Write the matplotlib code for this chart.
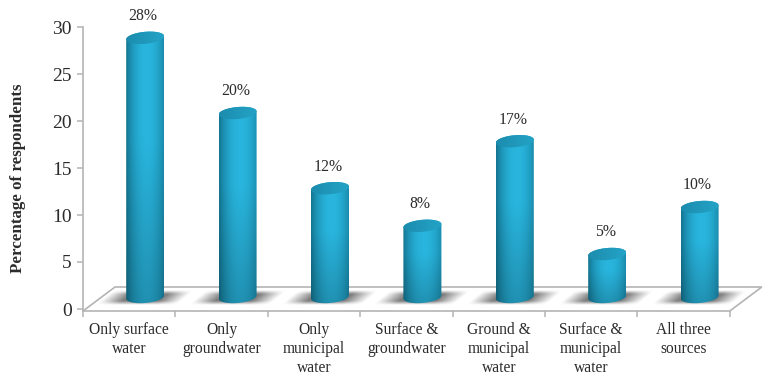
import numpy as np
import matplotlib
matplotlib.use("Agg")
import matplotlib.pyplot as plt
from matplotlib.path import Path
from matplotlib.patches import PathPatch

categories = ["Only surface\nwater", "Only\ngroundwater", "Only\nmunicipal\nwater",
              "Surface &\ngroundwater", "Ground &\nmunicipal\nwater",
              "Surface &\nmunicipal\nwater", "All three\nsources"]
values = [28, 20, 12, 8, 17, 5, 10]
value_labels = ["28%", "20%", "12%", "8%", "17%", "5%", "10%"]
yticks = [0, 5, 10, 15, 20, 25, 30]

W, H = 767, 375
PX_X = 92.4          # pixels per category
PX_Y = 9.4           # pixels per percentage point
LEFT, BOTTOM, TOP = 83, 311, 27

plt.rcParams["font.family"] = ["Liberation Serif", "DejaVu Serif"]
fig = plt.figure(figsize=(W / 100, H / 100), dpi=100)
ax = fig.add_axes([LEFT / W, 1 - BOTTOM / H, 7 * PX_X / W, (BOTTOM - TOP) / H])
ymin = -(BOTTOM - 309) / PX_Y
ax.set_xlim(0, 7)
ax.set_ylim(ymin, 30)

GRID = "#b4b4b4"
TEXT = "#2b2b2b"
for name in ("top", "right"):
    ax.spines[name].set_visible(False)
for name in ("left", "bottom"):
    ax.spines[name].set_color(GRID)
    ax.spines[name].set_linewidth(1.2)

ax.set_yticks(yticks)
ax.tick_params(axis="y", length=4, color=GRID, width=1.1, labelsize=14, labelcolor=TEXT, pad=4)
ax.set_xticks(np.arange(8))
ax.set_xticklabels([])
ax.tick_params(axis="x", which="major", length=4, color=GRID, width=1.1)
ax.set_xticks(np.arange(7) + 0.5, minor=True)
ax.set_xticklabels(categories, minor=True, fontsize=11.2, color=TEXT, linespacing=1.25)
ax.tick_params(axis="x", which="minor", length=0, pad=8)

fig.text(18 / W, 1 - 178 / H, "Percentage of respondents", rotation=90, ha="center", va="center",
         fontsize=12.2, fontweight="bold", color=TEXT)

# Receding floor of the pseudo-3D plot
DEPTH_X = 32 / PX_X
DEPTH_Y = 24 / PX_Y
floor = Path([(0, ymin), (DEPTH_X, ymin + DEPTH_Y), (7 + DEPTH_X, ymin + DEPTH_Y), (7, ymin)])
ax.add_patch(PathPatch(floor, fill=False, ec=GRID, lw=1.2, clip_on=False, zorder=1))

BAR_DX = 16 / PX_X            # bars stand halfway into the floor
RX = 19 / PX_X                # cylinder radius
RY = 6 / PX_Y                 # ellipse semi-axis
TILT = 1.6 / PX_Y             # rise of the ellipse towards its right side
BASE = (309 - 297) / PX_Y
TOP_OFFSET = (309 - 301) / PX_Y


def ellipse(cx, cy, t):
    return cx + RX * np.cos(t), cy + RY * np.sin(t) + TILT * np.cos(t)


def draw_shadow(cx):
    nx, ny = 120, 40
    x0, x1 = -50, 50
    y0, y1 = -10, 10
    xs, ys = np.meshgrid(np.linspace(x0, x1, nx), np.linspace(y0, y1, ny))
    # parallelogram sheared to follow the floor, fading towards its edges
    u = xs - ys * 1.2
    edge_x = np.clip((40 - np.abs(u)) / 22, 0, 1)
    edge_y = np.clip((7.5 - np.abs(ys + 0.5)) / 4, 0, 1)
    rgba = np.zeros((ny, nx, 4))
    rgba[..., :3] = 0.40
    rgba[..., 3] = edge_x * edge_y * 0.85
    extent = (cx + x0 / PX_X, cx + x1 / PX_X, BASE + y0 / PX_Y, BASE + y1 / PX_Y)
    ax.imshow(rgba, extent=extent, origin="lower", aspect="auto", zorder=2, clip_on=False,
              interpolation="bilinear")


def body_image():
    nx, ny = 80, 60
    s = np.linspace(-1, 1, nx)
    v = np.linspace(0, 1, ny)
    light = np.clip(1 - ((s - 0.1) / 1.1) ** 2, 0, 1) ** 0.9
    dark = np.array([0.07, 0.45, 0.56])
    bright = np.array([0.16, 0.71, 0.87])
    img = dark + (bright - dark) * light[None, :, None]
    fade = 0.80 + 0.20 * np.clip(v[:, None, None] / 0.6, 0, 1)   # darker towards the floor
    return np.clip(img * fade, 0, 1)


def cap_image():
    nx, ny = 60, 30
    s = np.linspace(-1, 1, nx)
    light = np.clip((s + 1) / 2, 0, 1)[None, :, None]
    left = np.array([0.11, 0.55, 0.68])
    right = np.array([0.14, 0.64, 0.78])
    return np.ones((ny, 1, 1)) * (left + (right - left) * light)


for i, val in enumerate(values):
    cx = i + 0.5 + BAR_DX
    top = val + TOP_OFFSET
    draw_shadow(cx)

    t_low = np.linspace(np.pi, 2 * np.pi, 40)
    t_up = np.linspace(0, np.pi, 40)
    bx, by = ellipse(cx, BASE, t_low)
    tx, ty = ellipse(cx, top, t_up)
    body = Path(np.column_stack([np.r_[bx, tx], np.r_[by, ty]]))
    im = ax.imshow(body_image(), origin="lower", aspect="auto", zorder=3, clip_on=True,
                   extent=(cx - RX, cx + RX, BASE - RY - TILT, top + RY + TILT),
                   interpolation="bilinear")
    im.set_clip_path(PathPatch(body, transform=ax.transData))

    t_all = np.linspace(0, 2 * np.pi, 80)
    ex, ey = ellipse(cx, top, t_all)
    cap = Path(np.column_stack([ex, ey]))
    im = ax.imshow(cap_image(), origin="lower", aspect="auto", zorder=4, clip_on=True,
                   extent=(cx - RX, cx + RX, top - RY - TILT, top + RY + TILT),
                   interpolation="bilinear")
    im.set_clip_path(PathPatch(cap, transform=ax.transData))

    ax.annotate(value_labels[i], (cx, top), xytext=(-1.5, 15.5), textcoords="offset points",
                ha="center", va="center", fontsize=11.3, color=TEXT, annotation_clip=False, zorder=5)

ax.set_xlim(0, 7)
ax.set_ylim(ymin, 30)
fig.savefig("out.png", dpi=100)
